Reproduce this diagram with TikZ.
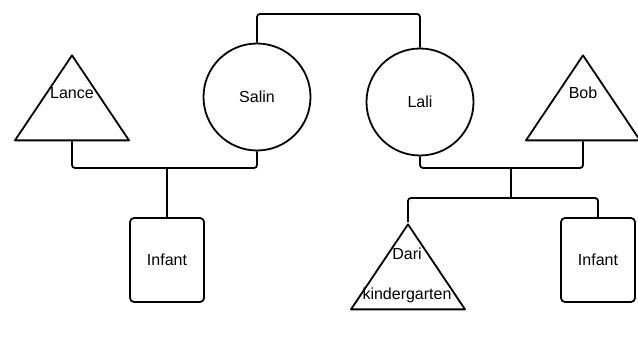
\documentclass[tikz,border=0pt]{standalone}
\usepackage{fontspec}
\setmainfont{Liberation Sans}
\usetikzlibrary{shapes.geometric}
\usetikzlibrary{positioning}

\tikzset{
  male/.style={isosceles triangle,
    isosceles triangle stretches,
    shape border rotate=90,
    draw,
    line width=1.8pt,
    line join=round,
    minimum width=114pt,
    minimum height=85pt,
    inner sep=0pt},
  female/.style={circle, draw, line width=1.8pt, minimum size=107pt, inner sep=0pt},
  infant/.style={rectangle, draw, rounded corners=4pt, line width=1.8pt,
    minimum width=74pt, minimum height=84pt, inner sep=0pt},
  link/.style={line width=1.8pt, rounded corners=3pt},
  nametxt/.style={inner sep=0pt}
}

\begin{document}
\begin{tikzpicture}[x=1pt,y=-1pt,font=\fontsize{16}{19}\selectfont]
                \useasboundingbox (0,0) rectangle (638,337);
                % first couple
                \node[male, anchor=apex] (lance) at (72,53) {};
                \node[nametxt] (lancetxt) at (72,93) {Lance};
                \node[female] (salin) at (257,97) {Salin};
                \node[infant] (infa) at (167,260) {Infant};
                % second couple
                \node[female] (lali) at (420,102) {Lali};
                \node[male, anchor=apex] (bob) at (583,53) {};
                \node[nametxt] (bobtxt) at (583,93) {Bob};
                \node[male, anchor=apex] (dari) at (408,222) {};
                \node[nametxt] (daritxt) at (407,254) {Dari};
                \node[nametxt] (darijob) at (407,295) {kindergarten};
                \node[infant] (infb) at (598,260) {Infant};
                % lines
                \coordinate (top) at (340,14);
                \coordinate (ma) at (167,168);
                \coordinate (mb) at (511,168);
                \coordinate (sb) at (511,198);
                \draw[link] (salin.north) |- (top) -| (lali.north);
                \draw[link] (lance.south) |- (ma) -| (salin.south);
                \draw[link] (ma) -- (infa.north);
                \draw[link] (lali.south) |- (mb) -| (bob.south);
                \draw[link] (mb) -- (sb);
                \draw[link] (dari.apex) |- (sb) -| (infb.north);
            \end{tikzpicture}
\end{document}
